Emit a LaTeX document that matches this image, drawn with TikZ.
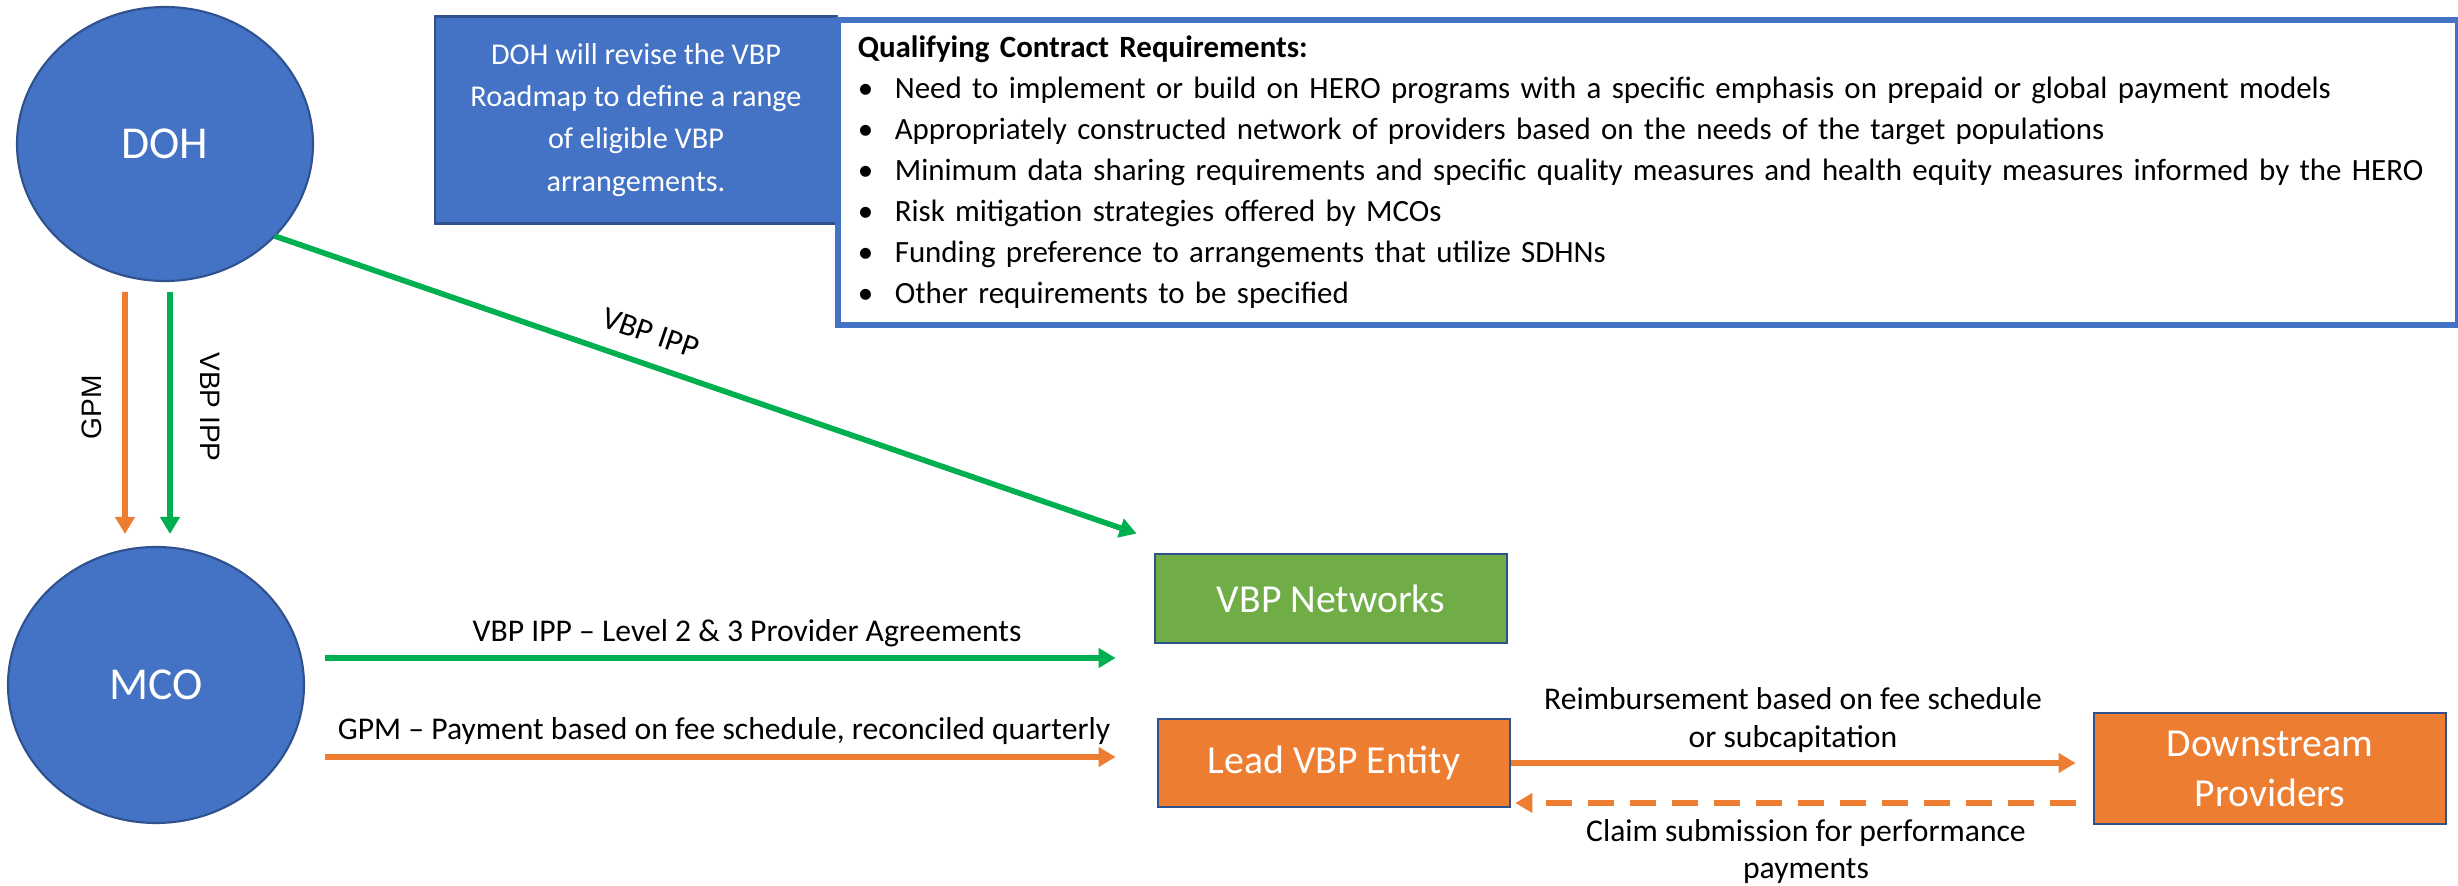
\documentclass[tikz,border=0pt]{standalone}
\usepackage{fontspec}
\setmainfont{Carlito}
\newfontfamily\arialfont{Liberation Sans}
\usepackage{tikz}
\usetikzlibrary{shapes.geometric}
\usetikzlibrary{arrows.meta}
\usetikzlibrary{calc}

\definecolor{ofblue}{HTML}{4472C4}
\definecolor{ofdark}{HTML}{2F528F}
\definecolor{ofgreen}{HTML}{70AD47}
\definecolor{oforange}{HTML}{ED7D31}
\definecolor{flowgreen}{HTML}{00B050}

\newcommand{\reqitem}[1]{\makebox[0.37cm][l]{\textbullet}#1}

\tikzset{
    party/.style={ellipse, draw=ofdark, line width=0.6pt, fill=ofblue, text=white,
        inner sep=0pt, outer sep=0pt, minimum width=2.96cm, minimum height=2.74cm,
        font=\fontsize{13}{15}\selectfont},
    entity/.style={rectangle, draw=ofdark, line width=0.8pt, text=white, align=center,
        minimum width=3.52cm, inner sep=0pt, font=\fontsize{11.3}{14.2}\selectfont},
    flow/.style={line width=1.6pt, -{Triangle[width=0.19cm,length=0.17cm]}},
    lbl/.style={inner sep=0pt, align=center, font=\fontsize{9}{10.8}\selectfont},
    sidelbl/.style={inner sep=0pt, font=\arialfont\fontsize{8}{9.6}\selectfont},
}

\begin{document}
\begin{tikzpicture}
    \useasboundingbox (0,0) rectangle (24.58,8.86);

    \node[party] (doh) at (1.65,7.42) {DOH};
    \node[party, minimum height=2.76cm] (mco) at (1.56,2.01) {MCO};

    \node[rectangle, draw=ofdark, line width=0.8pt, fill=ofblue, text=white, align=center,
        minimum width=4.02cm, minimum height=2.07cm, inner sep=0pt,
        font=\fontsize{8.6}{12}\selectfont] (roadmap) at (6.36,7.66)
        {DOH will revise the VBP\\ Roadmap to define a range\\ of eligible VBP\\ arrangements.};

    \node[rectangle, draw=ofblue, line width=1.6pt, fill=white, anchor=north west,
        minimum width=16.2cm, minimum height=3.05cm, inner xsep=0.16cm, inner ysep=0pt,
        text width=15.8cm, align=left, font=\fontsize{8.8}{11.66}\selectfont] (reqs) at (8.35,8.69)
        {\textbf{Qualifying Contract Requirements:}\\
        \reqitem{Need to implement or build on HERO programs with a specific emphasis on prepaid or global payment models}\\
        \reqitem{Appropriately constructed network of providers based on the needs of the target populations}\\
        \reqitem{Minimum data sharing requirements and specific quality measures and health equity measures informed by the HERO}\\
        \reqitem{Risk mitigation strategies offered by MCOs}\\
        \reqitem{Funding preference to arrangements that utilize SDHNs}\\
        \reqitem{Other requirements to be specified}};

    \node[entity, fill=ofgreen, minimum height=0.89cm] (vbpnet) at (13.31,2.875) {VBP Networks};
    \node[entity, fill=oforange, minimum height=0.88cm] (lead) at (13.34,1.23) {Lead VBP Entity};
    \node[entity, fill=oforange, minimum height=1.11cm] (down) at (22.70,1.175) {Downstream\\ Providers};

    \draw[flow, oforange] ($(doh.south)+(-0.40,-0.11)$) -- ($(mco.north)+(-0.31,0.13)$);
    \draw[flow, flowgreen] ($(doh.south)+(0.05,-0.11)$) -- ($(mco.north)+(0.14,0.13)$);
    \node[sidelbl, rotate=90] (gpmside) at (0.92,4.79) {GPM};
    \node[sidelbl, rotate=-90] (ippside) at (2.10,4.79) {VBP IPP};

    \draw[flow, flowgreen] (doh.-40) -- ($(vbpnet.north west)+(-0.17,0.19)$);
    \node[lbl, rotate=-18.9] (ippdiag) at (6.51,5.53) {VBP IPP};

    \draw[flow, flowgreen] ($(mco.east)+(0.21,0.27)$) -- ($(vbpnet.west)+(-0.38,-0.595)$);
    \node[lbl, anchor=base] (ipplevel) at (7.47,2.44) {VBP IPP -- Level 2 \& 3 Provider Agreements};

    \draw[flow, oforange] ($(mco.east)+(0.21,-0.72)$) -- ($(lead.west)+(-0.41,0.06)$);
    \node[lbl, anchor=base] (gpmpay) at (7.24,1.46) {GPM -- Payment based on fee schedule, reconciled quarterly};

    \draw[flow, oforange, shorten >=0.17cm] (lead.east) -- (lead.east -| down.west);
    \node[lbl] (reimb) at (17.93,1.66) {Reimbursement based on fee schedule\\ or subcapitation};

    \draw[flow, oforange, dash pattern=on 0.26cm off 0.16cm, shorten <=0.17cm, shorten >=0.04cm]
        ($(lead.east -| down.west)+(0,-0.40)$) -- ($(lead.east)+(0,-0.40)$);
    \node[lbl, font=\fontsize{9}{10.5}\selectfont] (claim) at (18.06,0.34) {Claim submission for performance\\ payments};
\end{tikzpicture}
\end{document}
